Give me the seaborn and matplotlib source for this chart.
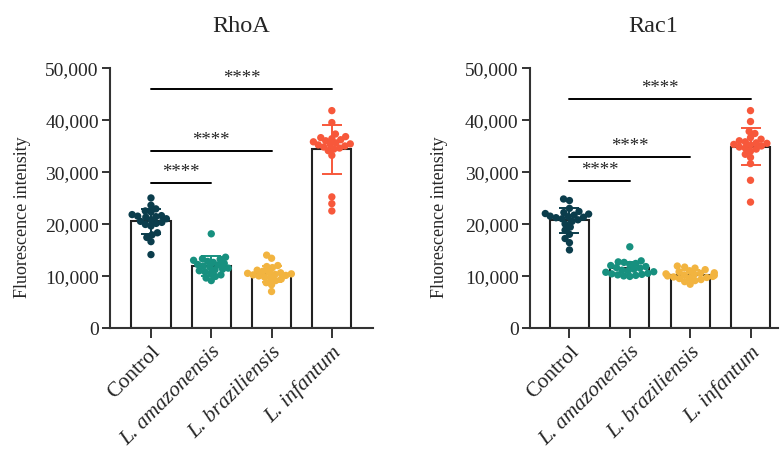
import numpy as np
import pandas as pd
import matplotlib
matplotlib.use("Agg")
import matplotlib.pyplot as plt
from matplotlib.ticker import FuncFormatter
import seaborn as sns

# groups and colours
groups = ["Control", "L. amazonensis", "L. braziliensis", "L. infantum"]
colors = ["#0b3d4c", "#17907f", "#f2b440", "#f7583b"]

# fluorescence intensity per cell, x1000
rhoa_control = [25.0, 23.6, 22.9, 22.5, 22.3, 21.8, 21.6, 21.5, 21.4, 21.3, 21.0,
                20.8, 20.5, 20.3, 20.1, 19.9, 19.6, 18.3, 17.9, 17.4, 16.6, 14.1]
rhoa_amaz = [18.1, 13.6, 13.3, 13.2, 13.0, 12.8, 12.6, 12.4, 12.2, 12.1, 11.9,
             11.7, 11.5, 11.3, 11.2, 11.0, 10.8, 10.5, 10.2, 9.9, 9.6, 9.1]
rhoa_braz = [14.0, 13.4, 12.0, 11.8, 11.6, 11.1, 10.9, 10.7, 10.6, 10.5, 10.4,
             10.3, 10.2, 10.1, 10.0, 9.8, 9.6, 9.4, 9.1, 8.7, 8.3, 7.0]
rhoa_inf = [41.8, 39.5, 37.3, 36.8, 36.6, 36.4, 36.2, 36.0, 35.8, 35.6, 35.4,
            35.3, 35.2, 35.0, 34.8, 34.6, 34.4, 34.1, 33.2, 25.2, 23.9, 22.5]

rac1_control = [24.8, 24.5, 23.0, 22.4, 22.2, 22.0, 21.9, 21.7, 21.5, 21.4, 21.3,
                21.2, 21.0, 20.8, 20.5, 20.0, 19.4, 18.8, 18.0, 17.2, 16.4, 15.0]
rac1_amaz = [15.6, 12.9, 12.7, 12.6, 12.4, 12.2, 12.0, 11.8, 11.6, 11.5, 11.3,
             11.1, 11.0, 10.8, 10.7, 10.5, 10.4, 10.3, 10.2, 10.1, 10.0, 9.9]
rac1_braz = [11.9, 11.7, 11.5, 11.2, 11.0, 10.8, 10.6, 10.5, 10.4, 10.3, 10.2,
             10.1, 10.0, 9.9, 9.8, 9.7, 9.6, 9.5, 9.3, 9.1, 8.9, 8.4]
rac1_inf = [41.8, 39.7, 37.8, 37.4, 36.6, 36.3, 36.0, 35.8, 35.6, 35.5, 35.3,
            35.2, 35.0, 34.8, 34.6, 34.4, 34.0, 33.4, 32.8, 31.6, 28.4, 24.2]

# significance brackets: control vs each group
sig_targets = [1, 2, 3]
sig_y_rhoa = [27900, 34000, 45900]
sig_y_rac1 = [28300, 32900, 44000]
sig_label = "****"

sns.set_style("ticks")
plt.rcParams["font.family"] = ["Liberation Serif", "DejaVu Serif"]


def make_df(vals):
    rows = []
    for g, v in zip(groups, vals):
        for x in v:
            rows.append((g, x * 1000))
    return pd.DataFrame(rows, columns=["group", "value"])


def draw(fig, ax, df, title, sig_y, xlim, ylab_x):
    sns.barplot(data=df, x="group", y="value", order=groups, errorbar=None,
                color="white", edgecolor="#222222", linewidth=1.5, width=0.65, ax=ax)
    ax.set_xlim(*xlim)
    ax.set_ylim(0, 50000)
    sns.swarmplot(data=df, x="group", y="value", order=groups, hue="group",
                  palette=colors, size=4.3, ax=ax, legend=False, zorder=3)
    # pack the swarm, then redraw with bigger overlapping dots
    fig.canvas.draw()
    for coll in list(ax.collections):
        xy = coll.get_offsets()
        fc = coll.get_facecolors()
        coll.remove()
        ax.scatter(xy[:, 0], xy[:, 1], s=28, c=fc, linewidths=0, zorder=3)
    stats = df.groupby("group")["value"].agg(["mean", "std"]).reindex(groups)
    for i, g in enumerate(groups):
        ax.errorbar(i, stats.loc[g, "mean"], yerr=stats.loc[g, "std"], color=colors[i],
                    capsize=7.5, capthick=1.4, elinewidth=1.4, zorder=4)
    for t, y in zip(sig_targets, sig_y):
        ax.plot([0, t], [y, y], color="black", lw=1.4)
        ax.text(t / 2, y + 600, sig_label, ha="center", va="bottom", fontsize=13.5)
    ax.set_xlim(*xlim)
    ax.set_ylim(0, 50000)
    ax.set_yticks(np.arange(0, 50001, 10000))
    ax.yaxis.set_major_formatter(FuncFormatter(lambda v, p: f"{v:,.0f}"))
    ax.set_xlabel("")
    ax.set_ylabel("Fluorescence intensity", fontsize=13)
    ax.yaxis.set_label_coords(ylab_x, 0.43)
    ax.set_title(title, fontsize=17.5, pad=27)
    ax.set_xticks(range(len(groups)))
    ax.set_xticklabels(groups, rotation=45, ha="right", rotation_mode="anchor", fontsize=15.5)
    for lab in ax.get_xticklabels()[1:]:
        lab.set_fontstyle("italic")
    ax.tick_params(axis="y", labelsize=14, length=6, width=1.4, pad=2, color="#333333")
    ax.tick_params(axis="x", length=7, width=1.4, pad=3, color="#333333")
    for s in ["left", "bottom"]:
        ax.spines[s].set_linewidth(1.5)
        ax.spines[s].set_color("#333333")
    sns.despine(ax=ax)


fig = plt.figure(figsize=(7.8, 4.6), dpi=100)
ax1 = fig.add_axes([0.141, 0.285, 0.337, 0.565])
ax2 = fig.add_axes([0.679, 0.285, 0.318, 0.565])

draw(fig, ax1, make_df([rhoa_control, rhoa_amaz, rhoa_braz, rhoa_inf]), "RhoA",
     sig_y_rhoa, (-0.68, 3.68), -0.30)
draw(fig, ax2, make_df([rac1_control, rac1_amaz, rac1_braz, rac1_inf]), "Rac1",
     sig_y_rac1, (-0.66, 3.45), -0.33)

fig.savefig("out.png", dpi=100)
